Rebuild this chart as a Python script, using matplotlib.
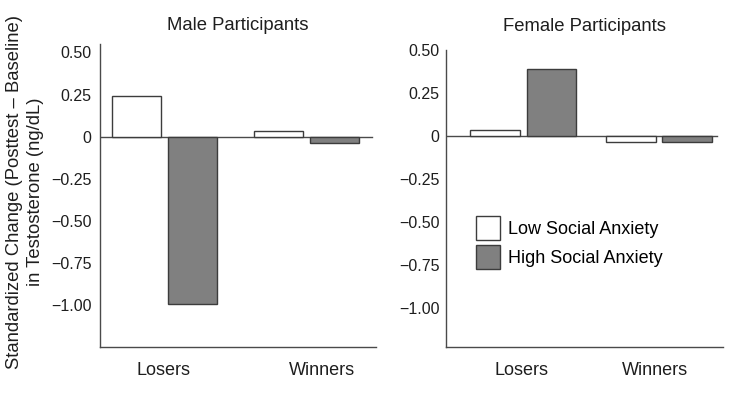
import numpy as np
import matplotlib
matplotlib.use("Agg")
import matplotlib.pyplot as plt
from matplotlib.patches import Patch

plt.rcParams['font.family'] = ['Liberation Sans', 'DejaVu Sans']

# Data
groups = ['Losers', 'Winners']
series = ['Low Social Anxiety', 'High Social Anxiety']
male_low = [0.24, 0.035]
male_high = [-0.995, -0.04]
female_low = [0.035, -0.035]
female_high = [0.39, -0.035]
yticks = [0.50, 0.25, 0, -0.25, -0.50, -0.75, -1.00]
ytick_labels = ['0.50', '0.25', '0', '\u22120.25', '\u22120.50', '\u22120.75', '\u22121.00']

low_face, high_face = 'white', '#808080'
edge = '#3c3c3c'
axis_col = '#4a4a4a'

fig = plt.figure(figsize=(7.4, 3.94), dpi=100)
ax1 = fig.add_axes([100/740, 1-347/394, 276/740, 303/394])
ax2 = fig.add_axes([446/740, 1-347/394, 277/740, 297/394])

def panel(ax, low, high, centers, label_pos, title, ylim, title_pad, tick_pad, zero_end):
    c = np.array(centers)
    ax.bar(c - 0.56, low, width=0.99, color=low_face, edgecolor=edge, linewidth=1, zorder=3)
    ax.bar(c + 0.56, high, width=0.99, color=high_face, edgecolor=edge, linewidth=1, zorder=3)
    ax.axhline(0, xmin=0, xmax=zero_end, color=axis_col, lw=1, zorder=2)
    ax.set_xlim(0, 5.52)
    ax.set_ylim(*ylim)
    ax.set_yticks(yticks)
    ax.set_yticklabels(ytick_labels)
    ax.set_xticks(label_pos)
    ax.set_xticklabels(groups)
    ax.tick_params(axis='y', length=0, pad=tick_pad, labelsize=11.5, colors='#1e1e1e')
    ax.tick_params(axis='x', length=0, pad=11, labelsize=13, colors='#1e1e1e')
    for s in ['top', 'right']:
        ax.spines[s].set_visible(False)
    for s in ['left', 'bottom']:
        ax.spines[s].set_color(axis_col)
        ax.spines[s].set_linewidth(1)
    ax.set_title(title, fontsize=13.3, pad=title_pad, color='#1e1e1e')

panel(ax1, male_low, male_high, [1.29, 4.13], [1.26, 4.44],
      'Male Participants', (-1.25, 0.55), 10, 6, 0.985)
panel(ax2, female_low, female_high, [1.54, 4.24], [1.51, 4.16],
      'Female Participants', (-1.23, 0.495), 14, 4.5, 0.98)

fig.text(25/740, 1-192/394,
         'Standardized Change (Posttest \u2013 Baseline)\nin Testosterone (ng/dL)',
         rotation=90, ha='center', va='center', fontsize=13.3, linespacing=1.3,
         color='#1e1e1e')

handles = [Patch(facecolor=low_face, edgecolor=edge, linewidth=1),
           Patch(facecolor=high_face, edgecolor=edge, linewidth=1)]
fig.legend(handles, series, loc='upper left', bbox_to_anchor=(476/740, 1-216/394),
           frameon=False, fontsize=13, handlelength=1.35, handleheight=1.65,
           handletextpad=0.4, labelspacing=0.3, borderpad=0, borderaxespad=0)

fig.savefig('out.png', dpi=100)
